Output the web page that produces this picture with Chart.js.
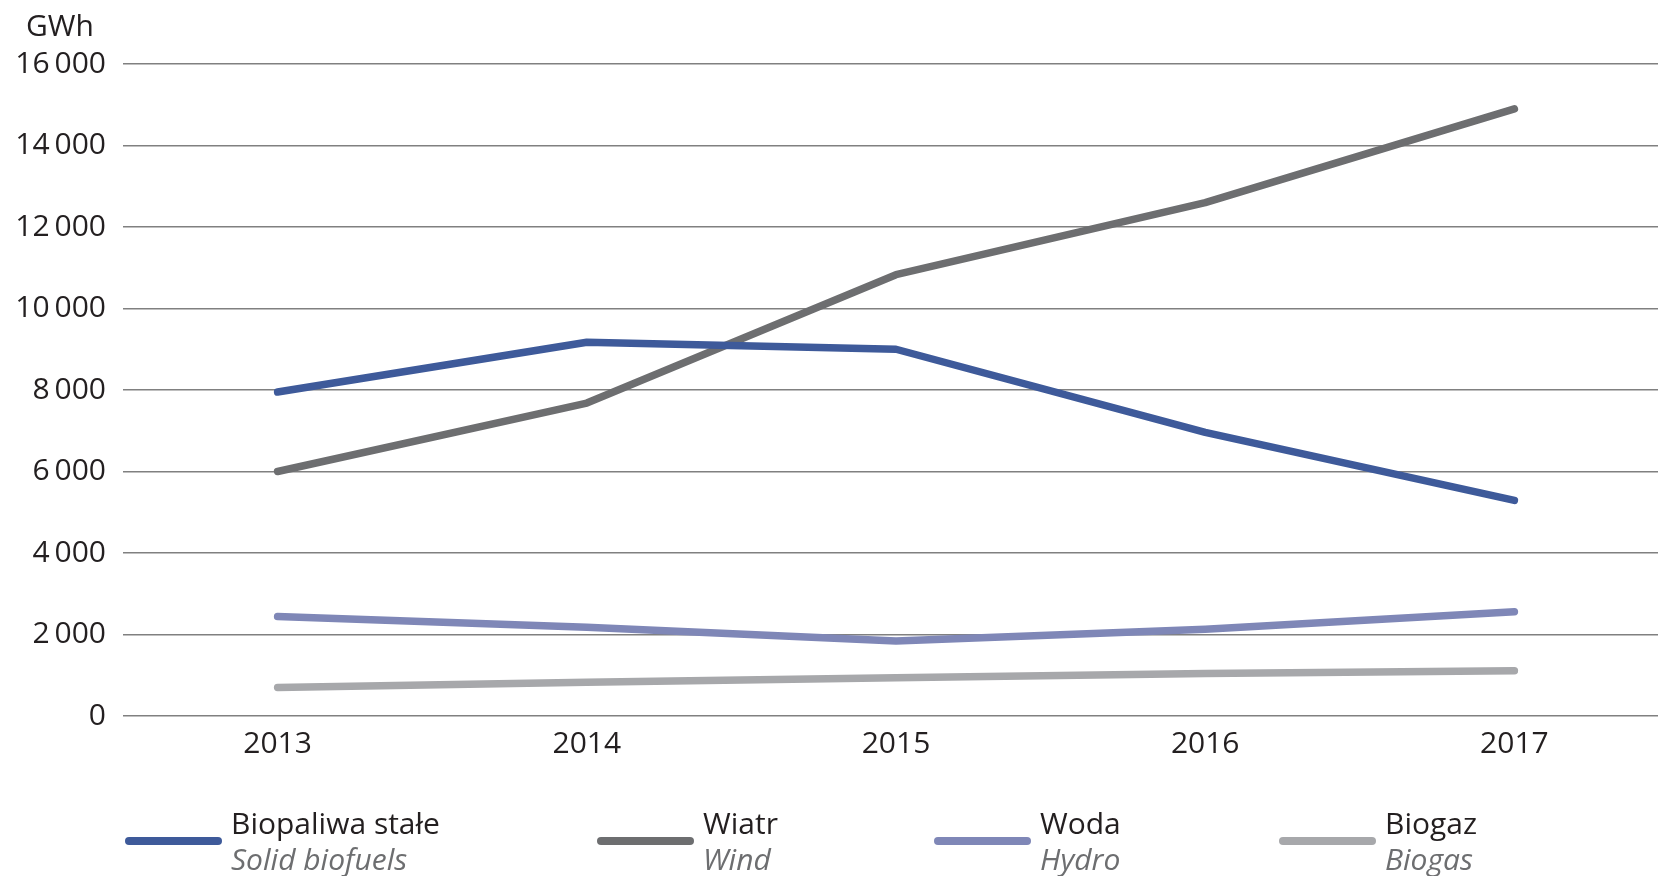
<!DOCTYPE html>
<html>
<head>
<meta charset="utf-8">
<script src="https://cdn.jsdelivr.net/npm/chart.js@4.4.0/dist/chart.umd.min.js"></script>
<style>
    html, body { margin: 0; padding: 0; background: #fff; overflow: hidden; }
    #wrap { position: relative; width: 1658px; height: 876px; overflow: hidden; }
    #chartBox { position: absolute; left: 0; top: 0; width: 1670px; height: 876px; }
    #unit { position: absolute; left: 26px; top: 4px; font: 30px "Open Sans"; color: #231f20; }
    .leg-line { position: absolute; height: 8px; border-radius: 4px; }
    .leg-text { position: absolute; font: 30px/36px "Open Sans"; color: #231f20; white-space: nowrap; }
    .leg-text i { color: #6d6e70; }
</style>
</head>
<body>
<div id="wrap">
    <div id="chartBox"><canvas id="energyChart" width="1670" height="876"></canvas></div>
    <div id="unit">GWh</div>
    <div id="legend"></div>
</div>
<script>
    // Chart data
    const years = ['2013', '2014', '2015', '2016', '2017'];
    const solidBiofuels = [7950, 9170, 9000, 6960, 5290];
    const wind = [6000, 7680, 10830, 12600, 14900];
    const hydro = [2440, 2180, 1840, 2130, 2560];
    const biogas = [700, 830, 940, 1040, 1110];
    const yTicks = [0, 2000, 4000, 6000, 8000, 10000, 12000, 14000, 16000];

    const seriesNames = [
        ['Biopaliwa stałe', 'Solid biofuels'],
        ['Wiatr', 'Wind'],
        ['Woda', 'Hydro'],
        ['Biogaz', 'Biogas']
    ];
    const seriesColors = ['#3e5a9a', '#6d6e70', '#7f87b7', '#a7a8ab'];
    const seriesData = [solidBiofuels, wind, hydro, biogas];

    const fmt = v => String(v).replace(/\B(?=(\d{3})+(?!\d))/g, '\u2009');

    const ctx = document.getElementById('energyChart').getContext('2d');
    const energyChart = new Chart(ctx, {
        type: 'line',
        data: {
            labels: years,
            datasets: seriesData.map((d, i) => ({
                label: seriesNames[i][0],
                data: d,
                borderColor: seriesColors[i],
                backgroundColor: seriesColors[i],
                borderWidth: 7.5,
                borderCapStyle: 'round',
                borderJoinStyle: 'round',
                pointRadius: 0,
                tension: 0
            }))
        },
        options: {
            responsive: false,
            animation: false,
            layout: { padding: { top: 64, right: 1, bottom: 0, left: 0 } },
            plugins: {
                legend: { display: false },
                tooltip: { enabled: false }
            },
            scales: {
                x: {
                    offset: true,
                    grid: { display: false },
                    border: { display: false },
                    ticks: {
                        color: '#231f20',
                        padding: 2,
                        font: { family: 'Open Sans', size: 30 }
                    },
                    afterFit: s => { s.height = 160; }
                },
                y: {
                    min: 0,
                    max: 16000,
                    afterBuildTicks: s => { s.ticks = yTicks.map(v => ({ value: v })); },
                    grid: { color: '#808080', lineWidth: 1.5, drawTicks: false },
                    border: { display: false },
                    ticks: {
                        color: '#231f20',
                        padding: 17,
                        font: { family: 'Open Sans', size: 30 },
                        callback: v => fmt(v)
                    },
                    afterFit: s => { s.width = 123; }
                }
            }
        }
    });

    // Legend below chart
    const legendX = [125, 597, 934, 1279];
    const legend = document.getElementById('legend');
    seriesNames.forEach((n, i) => {
        const line = document.createElement('div');
        line.className = 'leg-line';
        line.style.left = legendX[i] + 'px';
        line.style.top = '837px';
        line.style.width = '97px';
        line.style.background = seriesColors[i];
        legend.appendChild(line);

        const txt = document.createElement('div');
        txt.className = 'leg-text';
        txt.style.left = (legendX[i] + 106) + 'px';
        txt.style.top = '805px';
        txt.innerHTML = n[0] + '<br><i>' + n[1] + '</i>';
        legend.appendChild(txt);
    });
</script>
</body>
</html>
